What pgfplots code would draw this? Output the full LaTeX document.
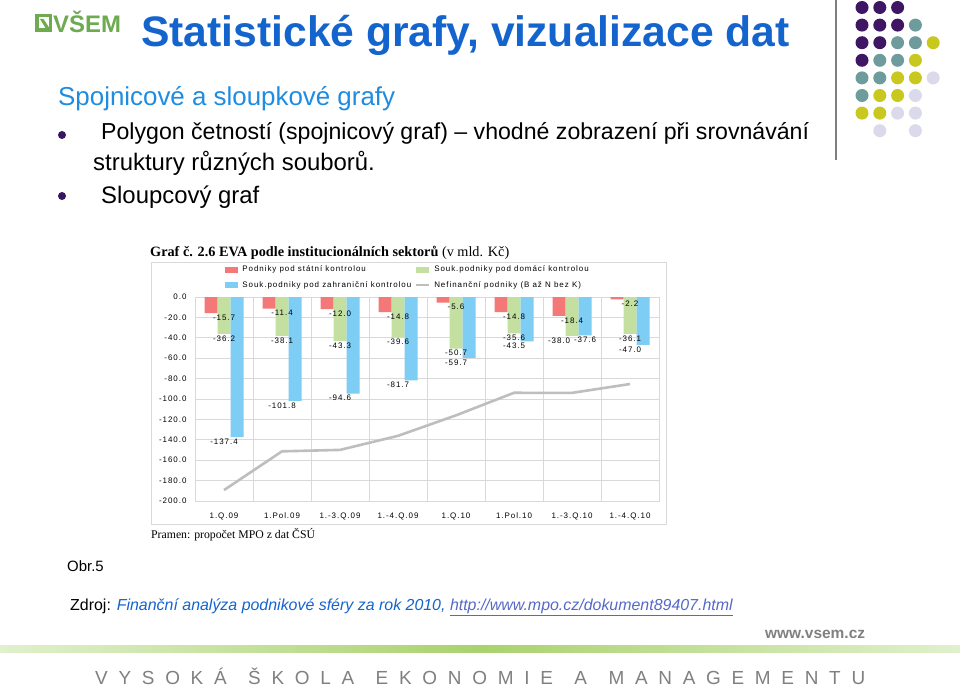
\documentclass[border=0pt]{standalone}
\usepackage{fontspec}
\usepackage{pgfplots}
\pgfplotsset{compat=1.18}
\setmainfont{Liberation Sans}
\newfontfamily\serifbody{Liberation Serif}
\newfontfamily\chartfont[LetterSpace=12]{Liberation Sans}
\newfontfamily\spacedfont{Liberation Sans}
\newcommand\cf{\chartfont\fontsize{8}{9.5}\selectfont}

\definecolor{titleblue}{RGB}{20,100,205}
\definecolor{headblue}{RGB}{30,140,225}
\definecolor{bulletpurple}{RGB}{55,20,100}
\definecolor{logogreen}{RGB}{110,170,80}
\definecolor{linkblue}{RGB}{85,105,200}
\definecolor{dp}{RGB}{62,22,100}
\definecolor{dt}{RGB}{110,155,155}
\definecolor{dy}{RGB}{200,200,30}
\definecolor{dl}{RGB}{218,218,235}
\definecolor{stripe1}{RGB}{225,240,205}
\definecolor{stripe2}{RGB}{170,210,110}
\definecolor{barred}{RGB}{245,120,120}
\definecolor{bargreen}{RGB}{196,224,160}
\definecolor{barblue}{RGB}{125,205,245}
\definecolor{linegray}{RGB}{190,190,190}
\definecolor{gridgray}{RGB}{217,217,217}

\pgfplotsset{
  evabar/.style={ybar, bar width=13bp, draw=none, fill=#1,
    nodes near coords,
    every node near coord/.append style={font=\cf, anchor=north, inner sep=1.5bp, text=black},
    legend image code/.code={\fill[fill=#1] (0bp,-3bp) rectangle (13bp,3bp);}},
  totalline/.style={draw=linegray, line width=2.6bp, no marks, sharp plot,
    legend image code/.code={\draw[draw=linegray, line width=2bp] (0bp,0bp) -- (13bp,0bp);}},
}

\begin{document}
\begin{tikzpicture}
\begin{scope}[x=1bp,y=-1bp]
\fill[white] (0,0) rectangle (960,689);
\path[use as bounding box] (0,0) rectangle (960,689);

% logo
\fill[logogreen] (35,14) rectangle (52,32);
\fill[white] (38.5,17.5) rectangle (48.5,28.5);
\fill[logogreen] (40,19) -- (43.5,19) -- (52,32) -- (48,32) -- cycle;
\node[anchor=base west, inner sep=0, font=\fontsize{24}{24}\selectfont\bfseries, text=logogreen] at (53,33) {VŠEM};

% title
\node[anchor=base west, inner sep=0, font=\fontsize{42.8}{42.8}\selectfont\bfseries, text=titleblue] at (141,47) {Statistické grafy, vizualizace dat};

% separator and dots
\draw[gray, line width=1.5] (836,0) -- (836,160);
\foreach \r/\c/\col in {0/0/dp,0/1/dp,0/2/dp,
  1/0/dp,1/1/dp,1/2/dp,1/3/dt,
  2/0/dp,2/1/dp,2/2/dt,2/3/dt,2/4/dy,
  3/0/dp,3/1/dt,3/2/dt,3/3/dy,
  4/0/dt,4/1/dt,4/2/dy,4/3/dy,4/4/dl,
  5/0/dt,5/1/dy,5/2/dy,5/3/dl,
  6/0/dy,6/1/dy,6/2/dl,6/3/dl,
  7/1/dl,7/3/dl}
  \fill[\col] ({862+17.8*\c},{7.5+17.6*\r}) circle (6.5);

% heading and bullets
\node[anchor=base west, inner sep=0, font=\fontsize{26}{26}\selectfont, text=headblue] at (58,106) {Spojnicové a sloupkové grafy};
\fill[bulletpurple] (62,135) circle (4);
\fill[bulletpurple] (62,196) circle (4);
\node[anchor=base west, inner sep=0, font=\fontsize{23.2}{24}\selectfont] at (101,140) {Polygon četností (spojnicový graf) – vhodné zobrazení při srovnávání};
\node[anchor=base west, inner sep=0, font=\fontsize{24}{24}\selectfont] at (93,171) {struktury různých souborů.};
\node[anchor=base west, inner sep=0, font=\fontsize{24}{24}\selectfont] at (101,203) {Sloupcový graf};

% chart frame, chart title, source
\draw[gridgray] (151,262) rectangle (666,524);
\node[anchor=base west, inner sep=0, font=\serifbody\fontsize{14.3}{14.3}\selectfont] at (150,256) {\textbf{Graf č. 2.6 EVA podle institucionálních sektorů} (v mld. Kč)};
\node[anchor=base west, inner sep=0, font=\serifbody\fontsize{11.8}{11.8}\selectfont] at (151,538) {Pramen: propočet MPO z dat ČSÚ};

% figure caption and source
\node[anchor=base west, inner sep=0, font=\fontsize{15}{15}\selectfont] at (67,571) {Obr.5};
\node[anchor=base west, inner sep=0, font=\fontsize{16}{16}\selectfont] at (70,610) {Zdroj: \textcolor{titleblue}{\itshape Finanční analýza podnikové sféry za rok 2010,} \textcolor{linkblue}{\itshape\underline{http://www.mpo.cz/dokument89407.html}}};

% footer
\node[anchor=base west, inner sep=0, font=\fontsize{15.5}{15.5}\selectfont\bfseries, text=gray] at (765,638) {www.vsem.cz};
\shade[left color=stripe1, right color=stripe2] (0,645) rectangle (480,652);
\shade[left color=stripe2, right color=stripe1] (480,645) rectangle (960,652);
\node[anchor=base west, inner sep=0, font=\spacedfont\fontsize{19}{19}\selectfont, text=gray] at (95,684)
  {\hbox to 770bp{V\hfill Y\hfill S\hfill O\hfill K\hfill Á\hfill\hfill Š\hfill K\hfill O\hfill L\hfill A\hfill\hfill E\hfill K\hfill O\hfill N\hfill O\hfill M\hfill I\hfill E\hfill\hfill A\hfill\hfill M\hfill A\hfill N\hfill A\hfill G\hfill E\hfill M\hfill E\hfill N\hfill T\hfill U}};
\end{scope}

\begin{axis}[
  at={(195bp,-501bp)}, anchor=south west,
  scale only axis, width=464bp, height=204bp,
  xmin=-0.5, xmax=7.5, ymin=-200, ymax=0,
  xtick={0,...,7},
  xticklabels={1.Q.09,1.Pol.09,1.-3.Q.09,1.-4.Q.09,1.Q.10,1.Pol.10,1.-3.Q.10,1.-4.Q.10},
  ytick={-200,-180,-160,-140,-120,-100,-80,-60,-40,-20,0},
  yticklabels={-200.0,-180.0,-160.0,-140.0,-120.0,-100.0,-80.0,-60.0,-40.0,-20.0,0.0},
  minor xtick={0.5,1.5,...,6.5},
  xminorgrids=true, ymajorgrids=true,
  grid style={draw=gridgray, line width=0.75bp},
  minor grid style={draw=gridgray, line width=0.75bp},
  axis line style={draw=gridgray, line width=0.75bp},
  major tick length=0pt, minor tick length=0pt,
  tick label style={font=\cf},
  xticklabel style={yshift=-8bp},
  yticklabel style={xshift=-5bp},
  /pgf/number format/fixed,
  /pgf/number format/fixed zerofill,
  /pgf/number format/precision=1,
  /pgf/number format/assume math mode=true,
  legend columns=2,
  legend style={at={(0.065,1.163)}, anchor=north west, draw=none, fill=none,
    font=\cf, row sep=4bp, column sep=2bp, inner sep=0pt},
  legend cell align=left,
]
\addplot[evabar=barred, bar shift=-13bp] coordinates
  {(0,-15.7) (1,-11.4) (2,-12.0) (3,-14.8) (4,-5.6) (5,-14.8) (6,-18.4) (7,-2.2)};
\addlegendentry{Podniky pod státní kontrolou}
\addplot[evabar=bargreen, bar shift=0bp,
  coordinate style/.condition={x==6}{xshift=-13bp}] coordinates
  {(0,-36.2) (1,-38.1) (2,-43.3) (3,-39.6) (4,-50.7) (5,-35.6) (6,-38.0) (7,-36.1)};
\addlegendentry{Souk.podniky pod domácí kontrolou}
\addplot[evabar=barblue, bar shift=13bp,
  coordinate style/.condition={x==6}{xshift=13bp}] coordinates
  {(0,-137.4) (1,-101.8) (2,-94.6) (3,-81.7) (4,-59.7) (5,-43.5) (6,-37.6) (7,-47.0)};
\addlegendentry{Souk.podniky pod zahraniční kontrolou}
\addplot[totalline] coordinates
  {(0,-189.3) (1,-151.3) (2,-149.9) (3,-136.1) (4,-116.0) (5,-93.9) (6,-94.0) (7,-85.3)};
\addlegendentry{Nefinanční podniky (B až N bez K)}
\end{axis}
\end{tikzpicture}
\end{document}
